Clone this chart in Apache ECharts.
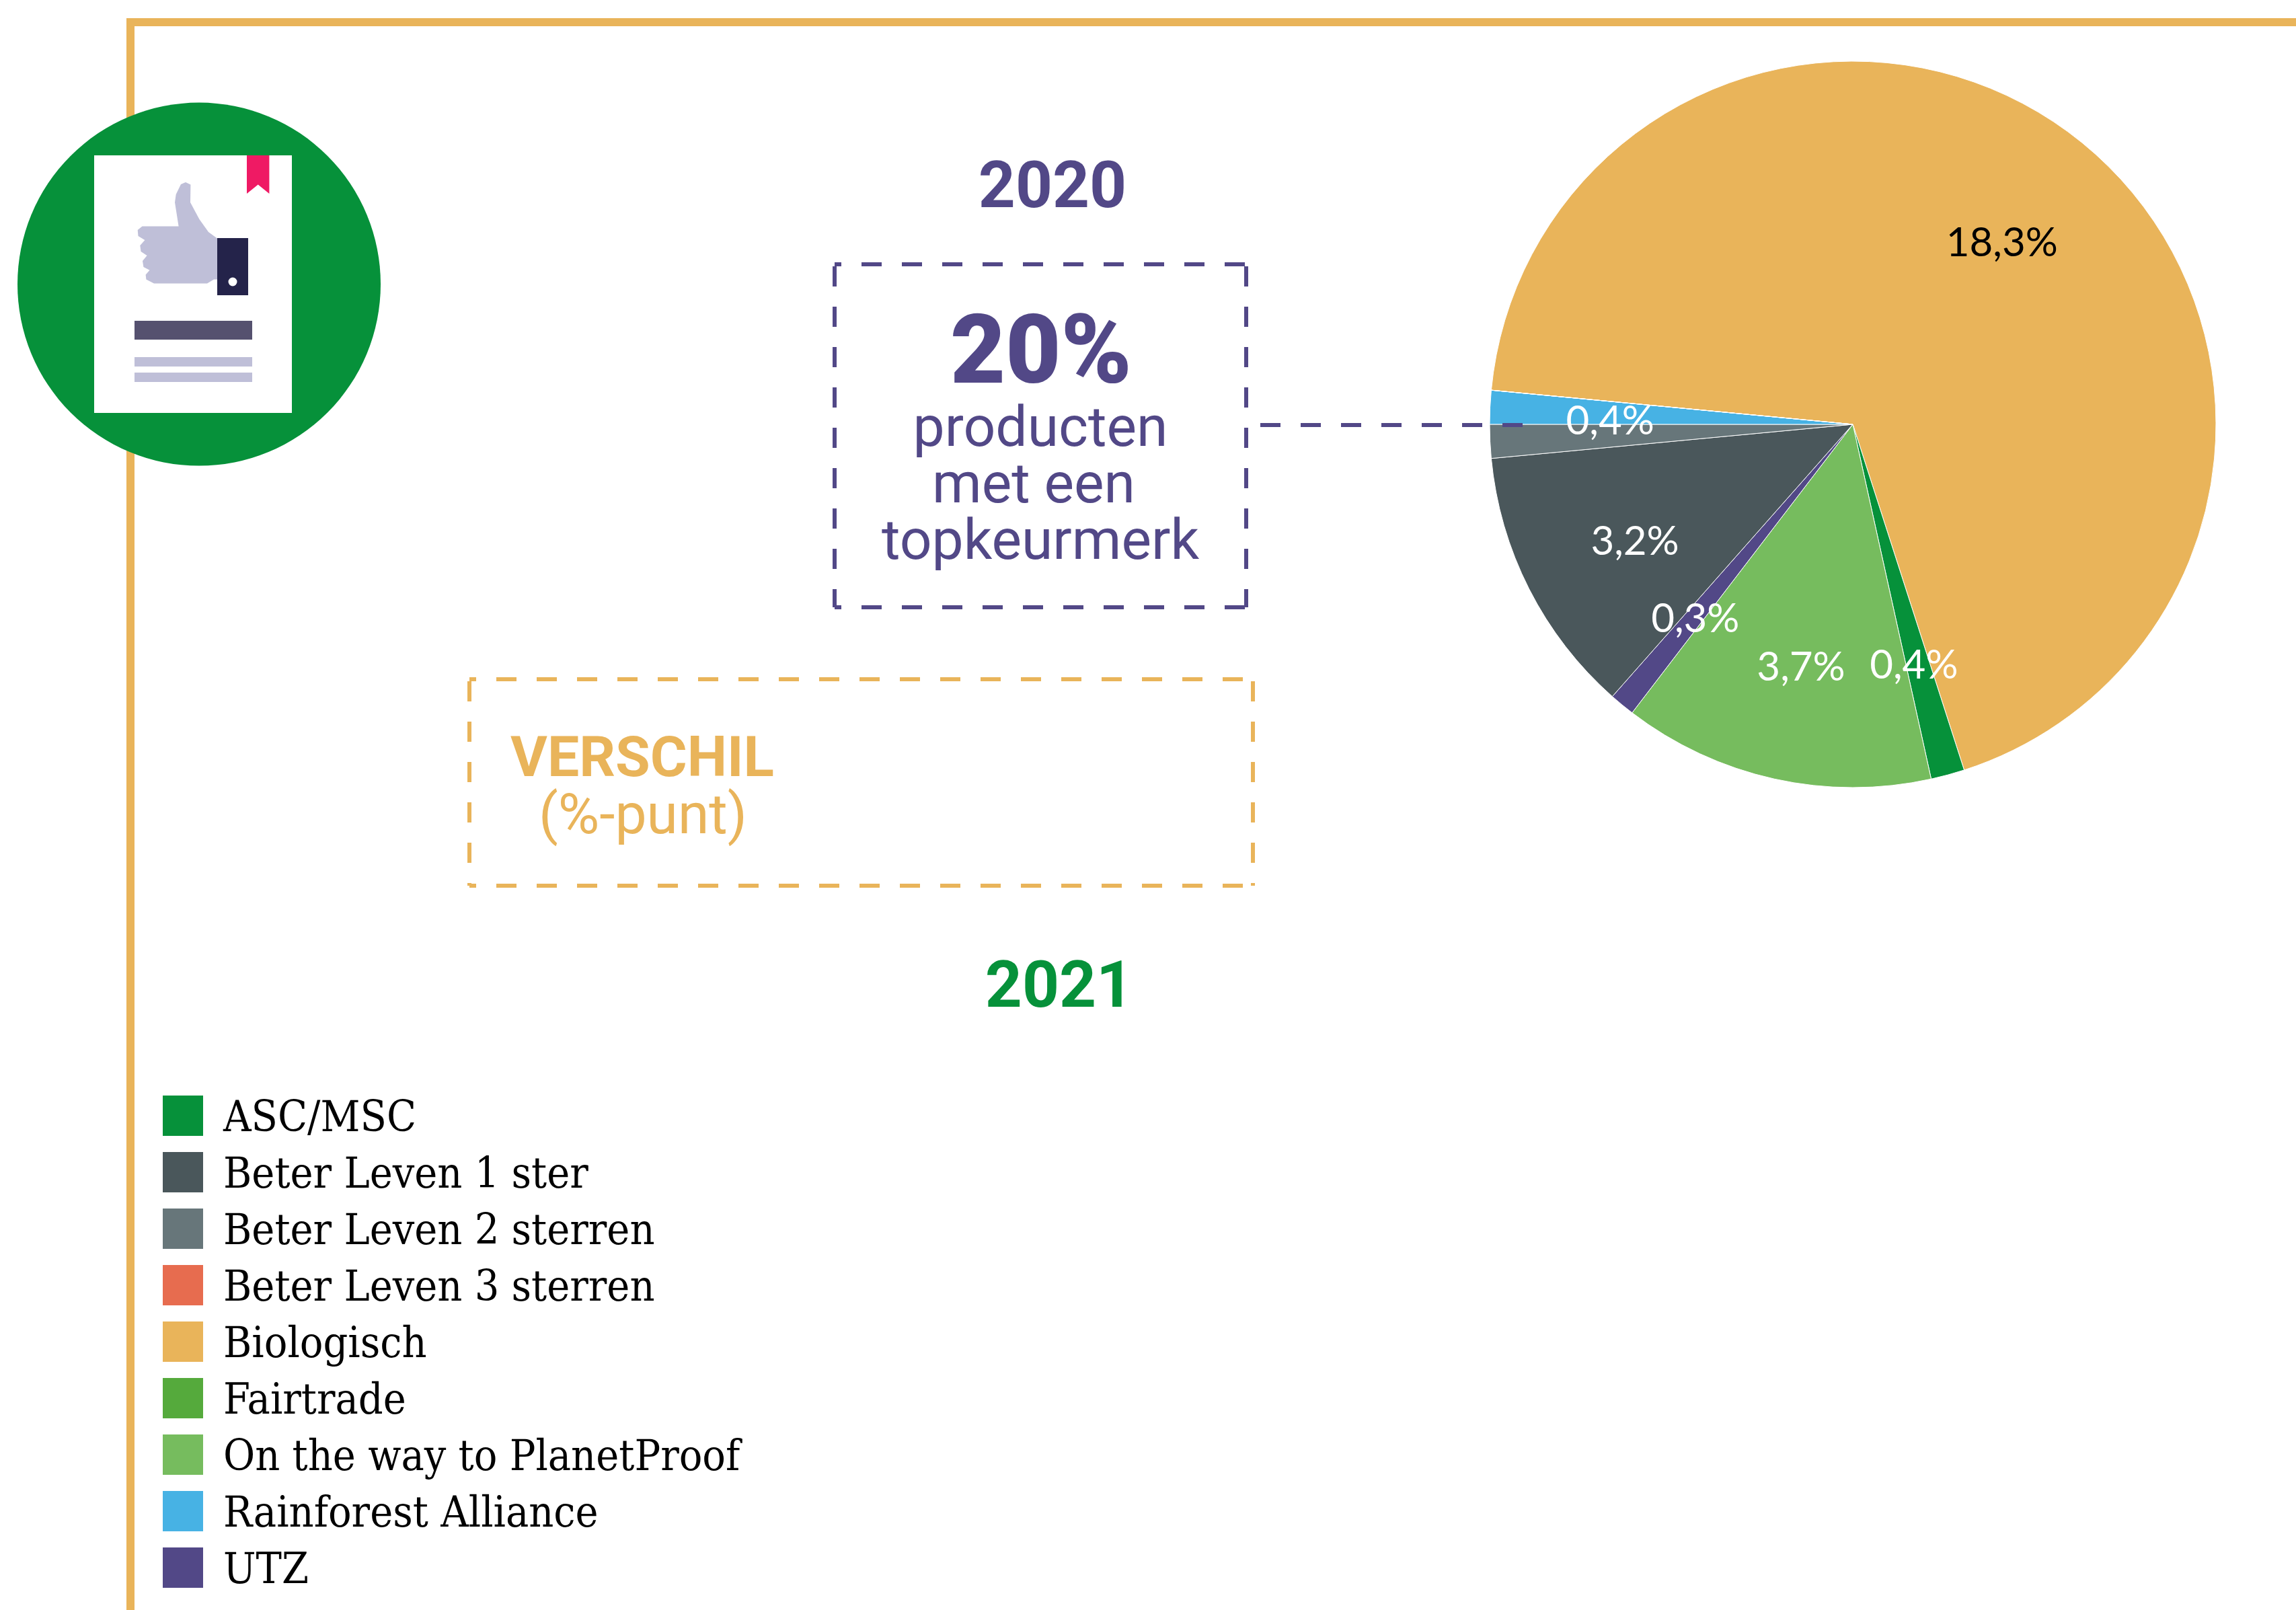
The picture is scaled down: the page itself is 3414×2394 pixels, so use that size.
<!DOCTYPE html>
<html><head><meta charset="utf-8">
<style>html,body{margin:0;padding:0;background:#fff}#c{width:3414px;height:2394px}</style>
<script src="https://cdn.jsdelivr.net/npm/echarts@6/dist/echarts.min.js"></script>
</head><body><div id="c"></div>
<script>
const categories = ['ASC/MSC','Beter Leven 1 ster','Beter Leven 2 sterren','Beter Leven 3 sterren','Biologisch','Fairtrade','On the way to PlanetProof','Rainforest Alliance','UTZ'];
const values2020 = [0.4,3.2,0.4,0,18.3,0,3.7,0.4,0.3];
const colors = ['#06913A','#4A575B','#67767A','#E76C4F','#E9B45A','#55AA3C','#76BC5E','#47B2E4','#524887'];
const sliceOrder = ['Biologisch','ASC/MSC','On the way to PlanetProof','UTZ','Beter Leven 1 ster','Beter Leven 2 sterren','Rainforest Alliance','Beter Leven 3 sterren','Fairtrade'];
const noLabel = ['Beter Leven 2 sterren'];
const labelNudge = {'Biologisch':[-10,19],'ASC/MSC':[-6,1],'On the way to PlanetProof':[3,0],'UTZ':[1,4],'Beter Leven 1 ster':[6,7],'Rainforest Alliance':[9,13]};
const PURPLE='#524887', ORANGE='#E9B45A', GREEN='#06913A';
const R=540, CX=2755, CY=631, START=174.6, LABEL_R=0.68;

const sliceData = sliceOrder.map(n=>{
  const i=categories.indexOf(n), v=values2020[i];
  return {name:n,value:v,itemStyle:{color:colors[i]},
    label:{show:v>0&&!noLabel.includes(n),color:n==='Biologisch'?'#000':'#fff'}};
});
const total = values2020.reduce((a,b)=>a+b,0);
function radialShift(idx){
  let before=0; for(let k=0;k<idx;k++) before+=sliceData[k].value;
  const mid=(before+sliceData[idx].value/2)/total*360;
  const a=(START-mid)*Math.PI/180;
  const d=(LABEL_R-0.5)*R;
  const n=labelNudge[sliceData[idx].name]||[0,0];
  return {dx:d*Math.cos(a)+n[0],dy:-d*Math.sin(a)+n[1]};
}
const txt=(text,x,y,size,weight,fill)=>({type:'text',z:20,silent:true,style:{text,x,y,fill,font:`${weight} ${size}px Roboto`,textAlign:'center',textVerticalAlign:'middle'}});
const rect=(x,y,w,h,fill,z=5)=>({type:'rect',z,silent:true,shape:{x,y,width:w,height:h},style:{fill}});
const dash=(x1,y1,x2,y2,stroke,off=0)=>({type:'line',z:15,silent:true,shape:{x1,y1,x2,y2},style:{stroke,lineWidth:6,lineDash:[30,30],lineDashOffset:off}});
const box=(x1,y1,x2,y2,c)=>[dash(x1,y1,x2,y1,c,20),dash(x1,y2,x2,y2,c,20),dash(x1,y1+3,x1,y2,c),dash(x2,y1+3,x2,y2,c)];
const hand=[[269,274],[276,271],[283.4,274.6],[283,301],[296.4,326],[310,345],[323,354.5],[323,415.5],[318,415.5],[308,421.5],[229,421.5],[217.4,415.5],[216.6,408.6],[222.5,401.8],[213.4,397],[212,388],[218.6,380],[209.5,374],[208.3,365],[215.4,357],[205.5,351],[204.7,342],[211.5,336.5],[265.6,336.5],[260,301],[261.7,289]];

const chart=echarts.init(document.getElementById('c'),null,{renderer:'canvas'});
chart.setOption({
  animation:false,backgroundColor:'#fff',
  legend:{data:categories,orient:'vertical',left:242,top:1621,height:800,padding:0,itemWidth:60,itemHeight:60,itemGap:8,icon:'rect',selectedMode:false,
    formatter:n=>`{t|${n}}`,
    textStyle:{rich:{t:{fontFamily:'DejaVu Serif Condensed',fontSize:64,lineHeight:64,color:'#000',padding:[12,0,0,25]}}},itemStyle:{borderWidth:0}},
  series:[{type:'pie',center:[CX,CY],radius:[0,R],startAngle:START,clockwise:true,silent:true,avoidLabelOverlap:false,
    itemStyle:{borderColor:'#fff',borderWidth:1},
    label:{position:'inside',formatter:p=>p.value.toFixed(1).replace('.',',')+'%',fontFamily:'Lato',fontWeight:400,fontSize:60},
    labelLine:{show:false},
    labelLayout:p=>radialShift(p.dataIndex),
    data:sliceData,z:10}],
  graphic:{elements:[
    rect(188,27,3226,12,ORANGE,1),
    rect(188,27,12,2367,ORANGE,1),
    {type:'circle',z:3,silent:true,shape:{cx:296,cy:422.6,r:270},style:{fill:GREEN}},
    rect(140,231,294,383,'#fff',4),
    {type:'polygon',z:5,silent:true,shape:{points:[[367,231],[400.4,231],[400.4,288],[383.7,274.6],[367,288]]},style:{fill:'#EF1A64'}},
    {type:'polygon',z:5,silent:true,shape:{points:hand},style:{fill:'#BFBFD8'}},
    rect(323,354,46,85,'#24234A',6),
    {type:'circle',z:7,silent:true,shape:{cx:346,cy:419,r:6.5},style:{fill:'#fff'}},
    rect(200,477,175,28,'#55516F'),
    rect(200,531,175,14,'#BFBFD8'),
    rect(200,554,175,14,'#BFBFD8'),
    ...box(1241,393,1853,903,PURPLE),
    ...box(698,1010,1863,1317,ORANGE),
    dash(1874,632,2264,632,PURPLE),
    txt('2020',1565,284,96,700,PURPLE),
    txt('20%',1548,533,142,900,PURPLE),
    txt('producten',1547,642,84,400,PURPLE),
    txt('met een',1537,726,84,400,PURPLE),
    txt('topkeurmerk',1547,810,84,400,PURPLE),
    txt('VERSCHIL',955,1133,84,700,ORANGE),
    txt('(%-punt)',956,1218,84,400,ORANGE),
    txt('2021',1575,1473,96,700,GREEN)
  ]}
});
</script></body></html>
